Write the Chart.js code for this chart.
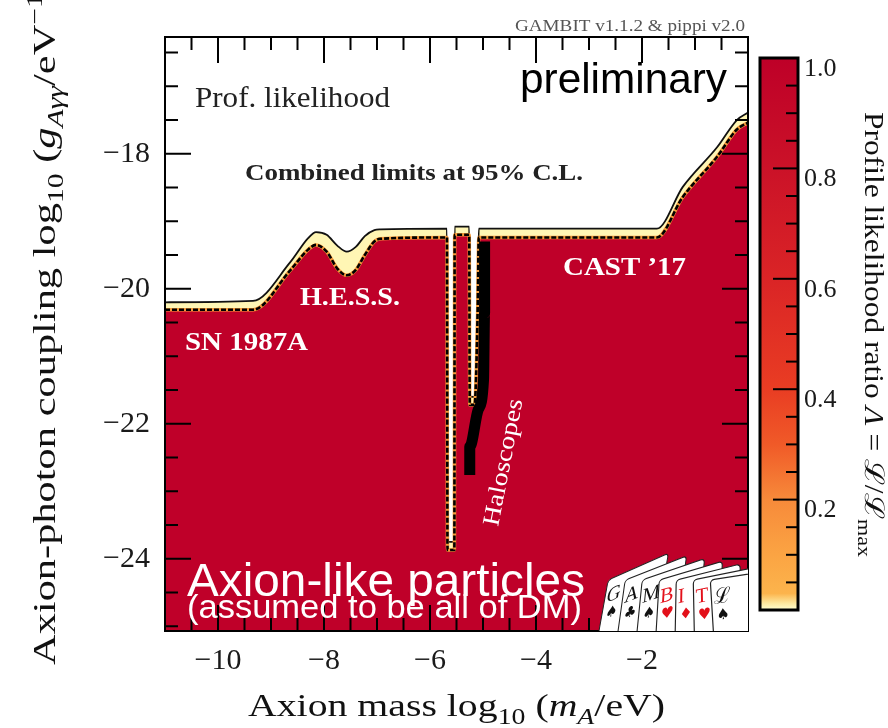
<!DOCTYPE html>
<html>
<head>
<meta charset="utf-8">
<script src="https://cdn.jsdelivr.net/npm/chart.js@4.4.0/dist/chart.umd.min.js"></script>
<style>
  html, body { margin: 0; padding: 0; background: #fff; }
  #wrap { position: relative; width: 888px; height: 728px; overflow: hidden; }
  #main { position: absolute; left: 0; top: 0; }
  #cbar { position: absolute; left: 750px; top: 0; }
</style>
</head>
<body>
<div id="wrap">
  <canvas id="main" width="888" height="728"></canvas>
  <canvas id="cbar" width="138" height="728"></canvas>
</div>
<script>
// edge of the allowed region (log10 m_A, log10 g)
const logMass    = [-11.00, -9.34, -8.64, -8.30, -8.15, -7.95, -7.75, -7.57, -7.40, -7.23, -7.05, -6.94, -5.68, -5.67, -5.54, -5.535, -5.26, -5.25, -5.16, -5.10, -5.08, -1.72, -1.23, -0.58, -0.21, 0.00];
const innerLimit = [-20.31, -20.31, -19.73, -19.42, -19.35, -19.45, -19.70, -19.80, -19.72, -19.50, -19.30, -19.26, -19.24, -23.87, -23.87, -19.20, -19.20, -21.72, -21.72, -20.30, -19.24, -19.24, -18.64, -18.04, -17.64, -17.54];
const outerLimit = [-20.20, -20.18, -19.61, -19.25, -19.16, -19.20, -19.36, -19.45, -19.38, -19.22, -19.13, -19.12, -19.11, -23.75, -23.75, -19.08, -19.08, -21.60, -21.60, -20.20, -19.11, -19.11, -18.49, -17.90, -17.50, -17.39];

// noisy contour pile-up next to the haloscope notch
const haloMass     = [-4.97, -4.97, -4.99, -5.09, -5.25, -5.25];
const haloCoupling = [-19.30, -20.36, -21.35, -21.79, -22.34, -22.76];

const massTicks     = [-10, -8, -6, -4, -2];
const couplingTicks = [-24, -22, -20, -18];
const ratioTicks    = [0.2, 0.4, 0.6, 0.8, 1.0];

// colour map of the likelihood ratio
const ratioStops  = [0, 0.012, 0.03, 0.1, 0.2, 0.3, 0.4, 0.6, 0.8, 1];
const ratioColors = ['#ffffd2', '#fde9a0', '#fcb44c', '#fba443', '#f78a3a', '#f05a28', '#e93d23', '#da2426', '#cb1228', '#be0028'];

const SERIF = "'Liberation Serif', 'DejaVu Serif', serif";
const SANS = "'Liberation Sans', Arial, sans-serif";

const pts = (xs, ys) => xs.map((x, i) => ({ x: x, y: ys[i] }));
const minus = v => (v < 0 ? '\u2212' : '') + Math.abs(v);

// text with sub/superscripts, optionally stretched to a width
function richText(ctx, segs, o) {
    const parts = segs.map(s => {
        const sz = (s.sub || s.sup) ? o.size * 0.7 : o.size;
        const font = (s.it ? 'italic ' : '') + (o.weight || '') + ' ' + sz + 'px ' + (s.fam || o.family);
        ctx.font = font;
        return { t: s.t, font: font, w: ctx.measureText(s.t).width, dy: s.sub ? o.size * 0.25 : s.sup ? -o.size * 0.42 : 0 };
    });
    const natural = parts.reduce((a, p) => a + p.w, 0);
    const sx = o.width ? o.width / natural : 1;
    ctx.save();
    ctx.translate(o.x, o.y);
    if (o.angle) ctx.rotate(o.angle);
    ctx.scale(sx, 1);
    let cx = o.align === 'center' ? -natural / 2 : 0;
    ctx.fillStyle = o.color || '#000';
    ctx.textAlign = 'left';
    ctx.textBaseline = 'alphabetic';
    parts.forEach(p => {
        ctx.font = p.font;
        ctx.fillText(p.t, cx, p.dy);
        cx += p.w;
    });
    ctx.restore();
}

// the GAMBIT hand of cards, bottom right
function drawCards(ctx, area) {
    const letters = ['G', 'A', 'M', 'B', 'I', 'T', '\u2112'];
    const suits = ['\u2660', '\u2663', '\u2660', '\u2665', '\u2666', '\u2665', '\u2660'];
    const red = [false, false, false, true, true, true, false];
    ctx.save();
    ctx.beginPath();
    ctx.rect(area.left, area.top, area.right - area.left, area.bottom - area.top);
    ctx.clip();
    for (let i = 0; i < 7; i++) {
        const a = (24 - i * 2.5) * Math.PI / 180;
        const k = -0.18 + i * 0.04;
        ctx.save();
        ctx.transform(Math.cos(a), -Math.sin(a), k, 1, 597 + i * 19.5, 642);
        ctx.beginPath();
        ctx.roundRect(0, -62, 66, 62, 4);
        ctx.fillStyle = '#fff';
        ctx.fill();
        ctx.lineWidth = 1.2;
        ctx.strokeStyle = '#222';
        ctx.stroke();
        ctx.fillStyle = red[i] ? '#e3101a' : '#111';
        ctx.font = '21px ' + SERIF;
        ctx.textAlign = 'left';
        ctx.fillText(letters[i], 2, -38);
        ctx.font = '15px DejaVu Sans';
        ctx.fillText(suits[i], 4, -21);
        ctx.restore();
    }
    ctx.restore();
}

const frameTicks = {
    id: 'frameTicks',
    afterDatasetsDraw(chart) {
        const { ctx, chartArea: a, scales: { x, y } } = chart;
        ctx.save();
        ctx.strokeStyle = '#000';
        ctx.lineWidth = 2;
        for (let v = -10.5; v < 0; v += 0.5) {
            const px = x.getPixelForValue(v);
            const len = v % 2 === 0 ? 26 : 13;
            ctx.beginPath();
            ctx.moveTo(px, a.bottom); ctx.lineTo(px, a.bottom - len);
            ctx.moveTo(px, a.top); ctx.lineTo(px, a.top + len);
            ctx.stroke();
        }
        for (let v = -25; v < -16.3; v += 0.5) {
            const py = y.getPixelForValue(v);
            const len = v % 2 === 0 ? 26 : 13;
            ctx.beginPath();
            ctx.moveTo(a.left, py); ctx.lineTo(a.left + len, py);
            ctx.moveTo(a.right, py); ctx.lineTo(a.right - len, py);
            ctx.stroke();
        }
        ctx.strokeRect(a.left, a.top, a.right - a.left, a.bottom - a.top);
        ctx.restore();
    },
    afterDraw(chart) {
        const { ctx, chartArea } = chart;
        drawCards(ctx, chartArea);
        const notes = [
            { segs: [{ t: 'GAMBIT v1.1.2 & pippi v2.0' }], x: 515, y: 31, size: 17, family: SERIF, color: '#555', width: 230 },
            { segs: [{ t: 'preliminary' }], x: 520, y: 93, size: 42, family: SANS, color: '#000', width: 207 },
            { segs: [{ t: 'Prof. likelihood' }], x: 195, y: 107, size: 29, family: SERIF, color: '#222', width: 195 },
            { segs: [{ t: 'Combined limits at 95% C.L.' }], x: 245, y: 180, size: 24, family: SERIF, weight: 'bold', color: '#222', width: 338 },
            { segs: [{ t: 'SN 1987A' }], x: 185, y: 350, size: 25, family: SERIF, weight: 'bold', color: '#fff', width: 123 },
            { segs: [{ t: 'H.E.S.S.' }], x: 300, y: 305, size: 25, family: SERIF, weight: 'bold', color: '#fff', width: 100 },
            { segs: [{ t: 'CAST \u201917' }], x: 563, y: 275, size: 25, family: SERIF, weight: 'bold', color: '#fff', width: 123 },
            { segs: [{ t: 'Haloscopes' }], x: 498, y: 527, size: 24, family: SERIF, color: '#fff', width: 129, angle: -79 * Math.PI / 180 },
            { segs: [{ t: 'Axion-like particles' }], x: 187, y: 596, size: 47, family: SANS, color: '#fff', width: 398 },
            { segs: [{ t: '(assumed to be all of DM)' }], x: 187, y: 618, size: 33, family: SANS, color: '#fff', width: 395 },
            { segs: [{ t: 'Axion mass log' }, { t: '10', sub: 1 }, { t: ' (' }, { t: 'm', it: 1 }, { t: 'A', it: 1, sub: 1 }, { t: '/eV)' }],
              x: 248, y: 716, size: 32, family: SERIF, color: '#111', width: 417 },
            { segs: [{ t: 'Axion-photon coupling log' }, { t: '10', sub: 1 }, { t: ' (' }, { t: 'g', it: 1 }, { t: 'A\u03b3\u03b3', it: 1, sub: 1 }, { t: '/eV' }, { t: '\u22121', sup: 1 }, { t: ')' }],
              x: 55, y: 665, size: 32, family: SERIF, color: '#111', width: 686, angle: -Math.PI / 2 }
        ];
        notes.forEach(n => richText(ctx, n.segs, n));
    }
};

new Chart(document.getElementById('main'), {
    type: 'line',
    data: {
        datasets: [
            { data: pts(haloMass, haloCoupling), borderColor: '#000', borderWidth: 11, fill: false, order: 1, clip: 0 },
            { data: pts(logMass, innerLimit), borderColor: '#000', borderWidth: 2.6, borderDash: [5, 2], fill: false, order: 2, clip: 0 },
            { data: pts(logMass, innerLimit), borderColor: '#f59a3a', borderWidth: 3.5, backgroundColor: '#bf0029', fill: 'start', order: 3, clip: 0 },
            { data: pts(logMass, outerLimit), borderColor: '#111', borderWidth: 1.8, backgroundColor: '#fff6b4', fill: 'start', order: 4, clip: 0 }
        ]
    },
    options: {
        responsive: false,
        animation: false,
        layout: { padding: { top: 37, right: 140, left: 0, bottom: 0 } },
        elements: {
            point: { radius: 0 },
            line: { tension: 0, cubicInterpolationMode: 'monotone', borderJoinStyle: 'round' }
        },
        plugins: { legend: { display: false }, tooltip: { enabled: false } },
        scales: {
            x: {
                type: 'linear', min: -11, max: 0,
                grid: { display: false, drawTicks: false },
                border: { display: false },
                afterBuildTicks: s => { s.ticks = massTicks.map(v => ({ value: v })); },
                afterFit: s => { s.height = 97; },
                ticks: { font: { family: SERIF, size: 30 }, color: '#1a1a1a', padding: 12, maxRotation: 0, callback: v => minus(v) }
            },
            y: {
                type: 'linear', min: -25.07, max: -16.27,
                grid: { display: false, drawTicks: false },
                border: { display: false },
                afterBuildTicks: s => { s.ticks = couplingTicks.map(v => ({ value: v })); },
                afterFit: s => { s.width = 165; },
                ticks: { font: { family: SERIF, size: 30 }, color: '#1a1a1a', padding: 15, callback: v => minus(v) }
            }
        }
    },
    plugins: [frameTicks]
});

const cbarTicks = {
    id: 'cbarTicks',
    afterDatasetsDraw(chart) {
        const { ctx, chartArea: a, scales: { y } } = chart;
        ctx.save();
        ctx.strokeStyle = '#000';
        ctx.lineWidth = 2;
        for (let i = 1; i < 20; i++) {
            const py = y.getPixelForValue(i * 0.05);
            const len = i % 4 === 0 ? 25 : 12;
            ctx.beginPath();
            ctx.moveTo(a.right, py); ctx.lineTo(a.right - len, py);
            ctx.stroke();
        }
        ctx.lineWidth = 3;
        ctx.strokeRect(a.left, a.top, a.right - a.left, a.bottom - a.top);
        ctx.restore();
    },
    afterDraw(chart) {
        richText(chart.ctx,
            [{ t: 'Profile likelihood ratio ' }, { t: '\u039b', it: 1 }, { t: ' = ' }, { t: '\u2112' }, { t: '/' }, { t: '\u2112' }, { t: 'max', sub: 1 }],
            { x: 115, y: 112, size: 27, family: SERIF, color: '#111', width: 445, angle: Math.PI / 2 });
    }
};

new Chart(document.getElementById('cbar'), {
    type: 'bar',
    data: {
        labels: [''],
        datasets: [{
            data: [[0, 1]],
            backgroundColor: c => {
                const ch = c.chart;
                const a = ch.chartArea;
                if (!a) return ratioColors[ratioColors.length - 1];
                const g = ch.ctx.createLinearGradient(0, a.bottom, 0, a.top);
                ratioStops.forEach((s, i) => g.addColorStop(s, ratioColors[i]));
                return g;
            },
            borderWidth: 0,
            barPercentage: 1,
            categoryPercentage: 1
        }]
    },
    options: {
        responsive: false,
        animation: false,
        layout: { padding: { left: 10, top: 58, bottom: 118, right: 0 } },
        plugins: { legend: { display: false }, tooltip: { enabled: false } },
        scales: {
            x: { display: false },
            y: {
                position: 'right', min: 0, max: 1,
                grid: { display: false, drawTicks: false },
                border: { display: false },
                afterBuildTicks: s => { s.ticks = ratioTicks.map(v => ({ value: v })); },
                afterFit: s => { s.width = 90; },
                ticks: { font: { family: SERIF, size: 26 }, color: '#1a1a1a', padding: 6, labelOffset: 11, callback: v => v.toFixed(1) }
            }
        }
    },
    plugins: [cbarTicks]
});
</script>
</body>
</html>
